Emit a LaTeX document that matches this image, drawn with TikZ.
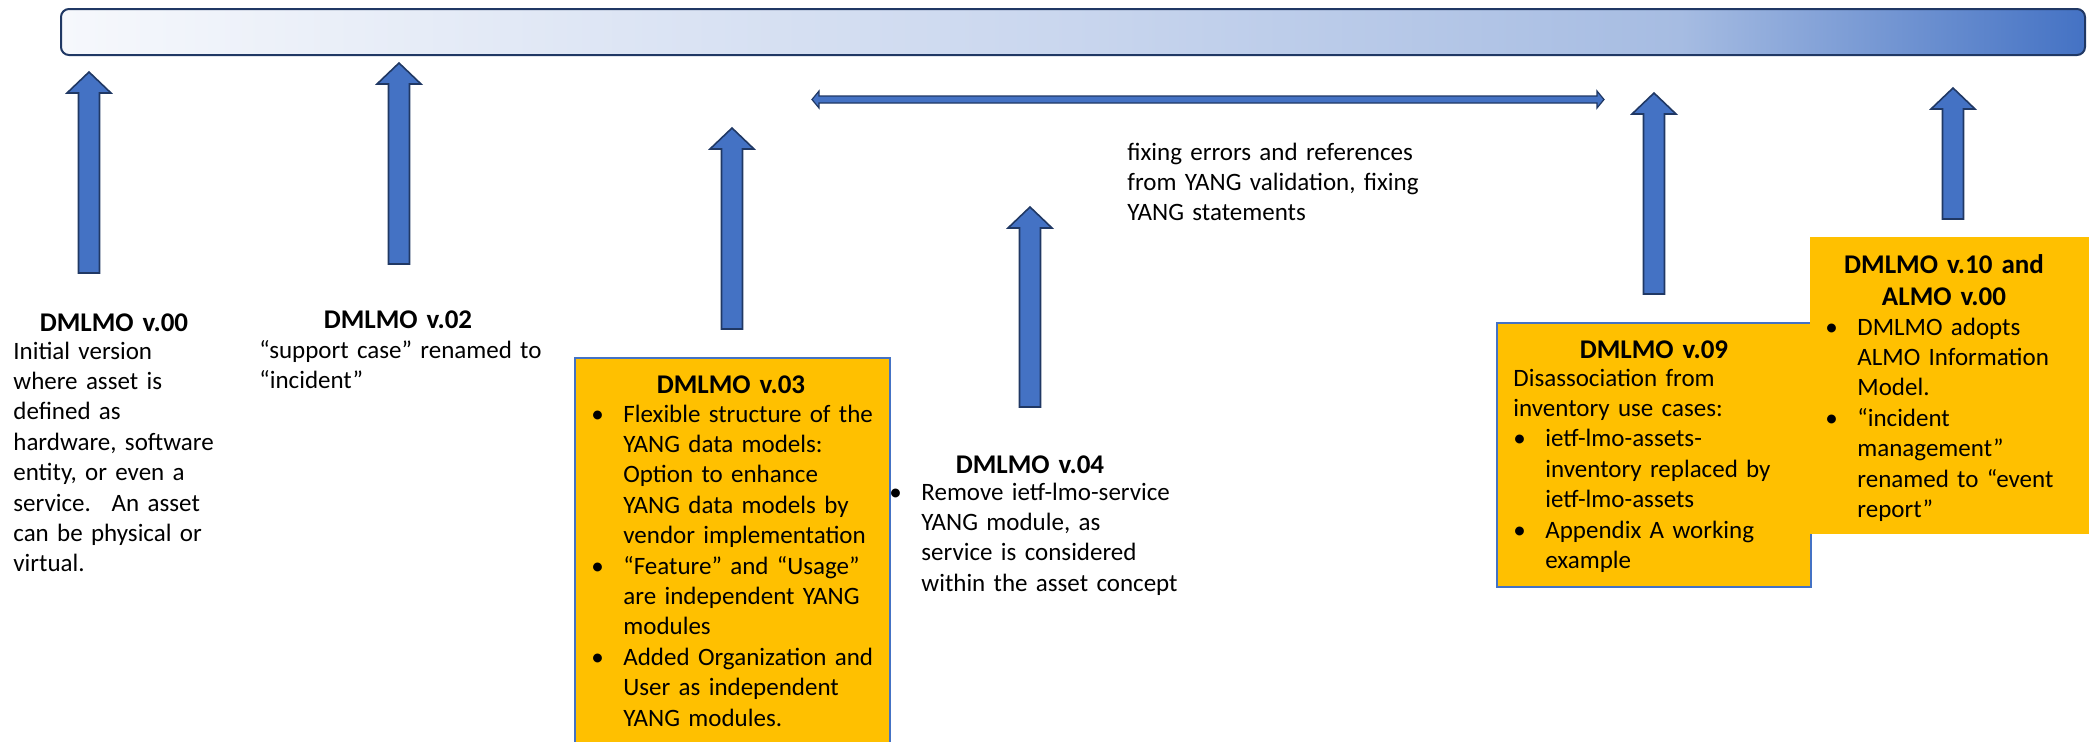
\documentclass[tikz,border=0pt]{standalone}
\usepackage{fontspec}
\setmainfont{Carlito}

\definecolor{arrowblue}{HTML}{4472C4}
\definecolor{arrowline}{HTML}{203864}
\definecolor{boxgold}{HTML}{FFC000}
\definecolor{barA}{HTML}{F6F8FC}
\definecolor{barB}{HTML}{C9D6EE}
\definecolor{barC}{HTML}{A6BCE2}
\definecolor{barD}{HTML}{4472C4}
\pgfdeclarehorizontalshading{timebar}{100bp}{color(0bp)=(barA); color(25bp)=(barA); color(50bp)=(barB); color(65bp)=(barC); color(75bp)=(barD); color(100bp)=(barD)}

% bullet and hanging indent for the list lines
\newcommand{\bitem}{\makebox[16pt][l]{\textbullet}}
\newcommand{\bcont}{\hspace*{16pt}}
% block arrow pointing up: x, tip y, bottom y
\newcommand{\uparr}[3]{%
  \draw[blockarrow] (#1-10.5,#3) -- (#1-10.5,#2+21) -- (#1-22,#2+21) -- (#1,#2)
    -- (#1+22,#2+21) -- (#1+10.5,#2+21) -- (#1+10.5,#3) -- cycle;}

\begin{document}
\begin{tikzpicture}[x=0.5pt, y=-0.5pt,
    blockarrow/.style = {fill=arrowblue, draw=arrowline, line width=0.8pt},
    title/.style = {font=\fontsize{13.5}{16}\selectfont\bfseries, inner sep=0, anchor=base, align=center, text width=120pt},
    body/.style = {font=\fontsize{12.5}{15.2}\selectfont, inner sep=0, anchor=base west, align=left, text width=160pt},
    goldbox/.style = {fill=boxgold, draw=arrowblue, line width=0.7pt}]
    \useasboundingbox (0,0) rectangle (2089,741);

    % time line
    \draw[shading=timebar, draw=arrowline, line width=1pt, rounded corners=4pt] (61,9) rectangle (2085,55);

    % version arrows
    \uparr{89}{72}{273}
    \uparr{399}{63}{264}
    \uparr{732}{128}{329}
    \uparr{1030}{207}{407}
    \uparr{1654}{93}{294}
    \uparr{1953}{88}{219}

    % span of the fixing releases
    \coordinate (spanl) at (812,99.5);
    \coordinate (spanr) at (1604,99.5);
    \draw[blockarrow, line width=0.6pt] (spanl) -- ++(7,-8.5) -- ++(0,5) -- ++(778,0) -- ++(0,-5)
        -- (spanr) -- ++(-7,8.5) -- ++(0,-5) -- ++(-778,0) -- ++(0,5) -- cycle;

    % boxes
    \draw[goldbox] (575,358) rectangle (890,745);
    \draw[goldbox] (1497,323) rectangle (1811,587);
    \fill[boxgold] (1810,237) rectangle (2092,534);

    % v.00
    \node[title] (t00) at (114,331) {DMLMO v.00};
    \node[body] (b00) at (13,359) {Initial version\\ where asset is\\ defined as\\ hardware, software\\ entity, or even a\\ service.~ An asset\\ can be physical or\\ virtual.};

    % v.02
    \node[title] (t02) at (398,328) {DMLMO v.02};
    \node[body] (b02) at (259,358) {“support case” renamed to\\ “incident”};

    % v.03
    \node[title] (t03) at (731,393) {DMLMO v.03};
    \node[body] (b03) at (591,422) {\bitem Flexible structure of the\\ \bcont YANG data models:\\ \bcont Option to enhance\\ \bcont YANG data models by\\ \bcont vendor implementation\\ \bitem “Feature” and “Usage”\\ \bcont are independent YANG\\ \bcont modules\\ \bitem Added Organization and\\ \bcont User as independent\\ \bcont YANG modules.};

    % v.04
    \node[title] (t04) at (1030,473) {DMLMO v.04};
    \node[body] (b04) at (889,500) {\bitem Remove ietf-lmo-service\\ \bcont YANG module, as\\ \bcont service is considered\\ \bcont within the asset concept};

    % fixing releases
    \node[body] (fix) at (1127,160) {fixing errors and references\\ from YANG validation, fixing\\ YANG statements};

    % v.09
    \node[title] (t09) at (1654,358) {DMLMO v.09};
    \node[body] (b09) at (1513,386) {Disassociation from\\ inventory use cases:\\ \bitem ietf-lmo-assets-\\ \bcont inventory replaced by\\ \bcont ietf-lmo-assets\\ \bitem Appendix A working\\ \bcont example};

    % v.10 and ALMO v.00
    \node[title] (t10) at (1944,273) {DMLMO v.10 and\\ ALMO v.00};
    \node[body] (b10) at (1825,335) {\bitem DMLMO adopts\\ \bcont ALMO Information\\ \bcont Model.\\ \bitem “incident\\ \bcont management”\\ \bcont renamed to “event\\ \bcont report”};
\end{tikzpicture}
\end{document}
